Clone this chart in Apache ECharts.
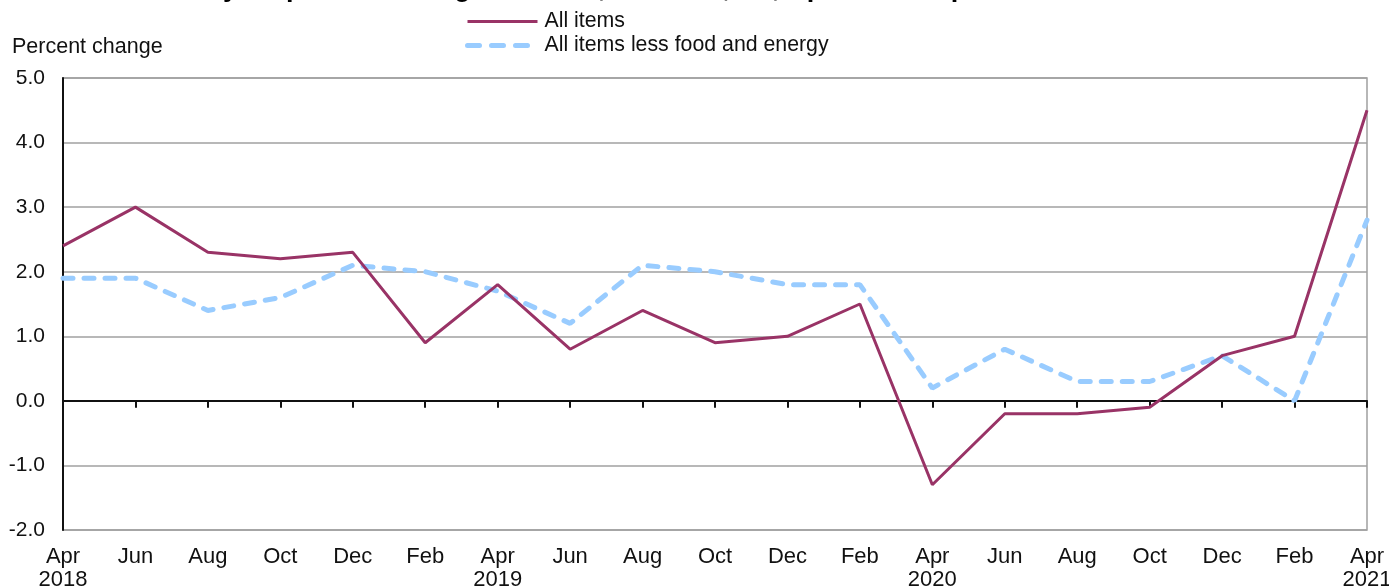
<!DOCTYPE html>
<html>
	<head>
		<meta charset="utf-8">
	</head>
	<body style="margin: 0">
		<div id="container" style="width: 1389px; height: 588px"></div>
		<script type="text/javascript" src="https://cdn.jsdelivr.net/npm/echarts@6/dist/echarts.min.js"></script>
		<script type="text/javascript">
			// bimonthly points, Apr 2018 .. Apr 2021
			var months = ['Apr\n2018', 'Jun', 'Aug', 'Oct', 'Dec', 'Feb', 'Apr\n2019', 'Jun', 'Aug', 'Oct', 'Dec', 'Feb',
				'Apr\n2020', 'Jun', 'Aug', 'Oct', 'Dec', 'Feb', 'Apr\n2021'];
			var allItems = [2.4, 3.0, 2.3, 2.2, 2.3, 0.9, 1.8, 0.8, 1.4, 0.9, 1.0, 1.5, -1.3, -0.2, -0.2, -0.1, 0.7, 1.0, 4.5];
			var lessFoodEnergy = [1.9, 1.9, 1.4, 1.6, 2.1, 2.0, 1.7, 1.2, 2.1, 2.0, 1.8, 1.8, 0.2, 0.8, 0.3, 0.3, 0.7, 0.0, 2.8];

			var font = 'Liberation Sans';
			var myChart = echarts.init(document.getElementById('container'));

			var option = {
				animation: false,
				textStyle: { fontFamily: font },
				title: {
					text: 'Chart 1. Over-the-year percent change in CPI-U, Houston, TX, April 2018\u2013April 2021',
					left: -10,
					top: -30,
					textStyle: { fontFamily: font, fontSize: 27, fontWeight: 'bold', color: '#000' }
				},
				legend: {
					orient: 'vertical',
					left: 465,
					top: 11,
					padding: 0,
					itemWidth: 70,
					itemHeight: 14,
					itemGap: 3,
					itemStyle: { opacity: 0 },
					textStyle: { fontFamily: font, fontSize: 21.3, color: '#111', padding: [0, 0, 0, 2] },
					data: [{
							name: 'All items',
							lineStyle: { width: 3 }
						},
						{
							name: 'All items less food and energy',
							lineStyle: { width: 5, type: [12, 12], cap: 'round' }
						}
					]
				},
				grid: {
					left: 63,
					right: 22,
					top: 78,
					bottom: 58,
					outerBoundsMode: 'none',
					show: true,
					borderColor: '#a0a0a0',
					borderWidth: 1.5
				},
				xAxis: [{
						type: 'category',
						boundaryGap: false,
						data: months,
						axisLine: { onZero: true, lineStyle: { color: '#111', width: 2 } },
						axisTick: { show: true, length: 7, lineStyle: { color: '#111', width: 2 } },
						axisLabel: { show: false }
					},
					{
						type: 'category',
						boundaryGap: false,
						position: 'bottom',
						data: months,
						axisLine: { show: false, onZero: false },
						axisTick: { show: false },
						axisLabel: {
							interval: 0,
							margin: 15,
							fontSize: 22,
							lineHeight: 23,
							color: '#111',
							fontFamily: font
						}
					}
				],
				yAxis: {
					type: 'value',
					name: 'Percent change',
					nameLocation: 'end',
					nameGap: 20,
					nameTextStyle: { fontFamily: font, fontSize: 21.5, color: '#111', align: 'left', padding: [0, 0, 0, -51] },
					min: -2,
					max: 5,
					interval: 1,
					axisLine: { show: true, lineStyle: { color: '#111', width: 2 } },
					axisTick: { show: false },
					axisLabel: {
						margin: 18,
						fontSize: 21,
						color: '#111',
						fontFamily: font,
						formatter: function(v) { return v.toFixed(1); }
					},
					splitLine: { lineStyle: { color: '#a0a0a0', width: 1.5 } }
				},
				series: [{
						name: 'All items',
						type: 'line',
						symbol: 'none',
						data: allItems,
						z: 3,
						color: '#993366',
						lineStyle: { color: '#993366', width: 3 }
					},
					{
						name: 'All items less food and energy',
						type: 'line',
						symbol: 'none',
						data: lessFoodEnergy,
						z: 2,
						color: '#99ccff',
						lineStyle: { color: '#99ccff', width: 5, type: [10, 11], cap: 'round' }
					}
				]
			};
			myChart.setOption(option);
		</script>
	</body>
</html>
